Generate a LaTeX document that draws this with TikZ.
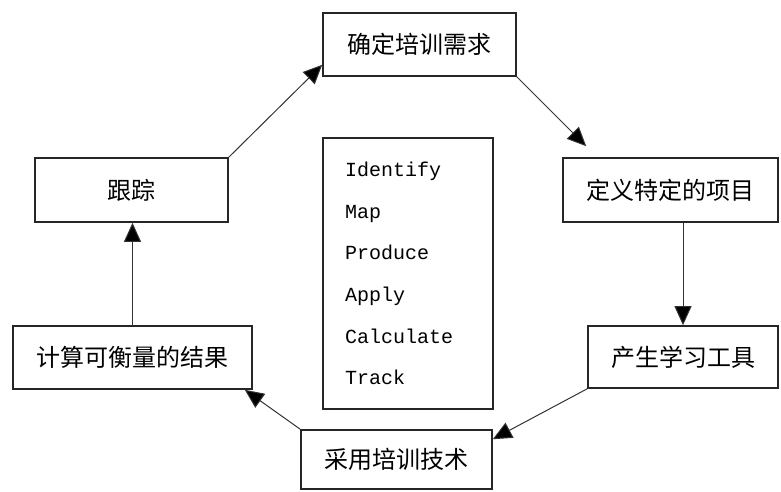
\documentclass[tikz,border=0pt]{standalone}
\usepackage{fontspec}
\newfontfamily\cjkfont{Noto Sans CJK SC}
\newfontfamily\stepfont{Liberation Mono}
\usetikzlibrary{arrows.meta,backgrounds}
\begin{document}
\begin{tikzpicture}[
	x = 1bp, y = -1bp, % pixel coordinates, y pointing down
	> = {Triangle[length=19bp,width=17bp]}, % arrow head style
	link/.style = {line width=1bp, draw=black!80, every edge/.append style={->}},
	box/.style = {rectangle, draw=black!85, line width=1.6bp, fill=white,
		inner sep=0pt, font=\cjkfont\fontsize{24bp}{28bp}\selectfont}
	]
	\useasboundingbox (0,0) rectangle (781,492);
	
	\node[box, minimum width=193bp, minimum height=63bp] (need) at (419.5,44.5) {确定培训需求};
	\node[box, minimum width=215bp, minimum height=64bp] (define) at (670.5,190) {定义特定的项目};
	\node[box, minimum width=190bp, minimum height=62bp] (tools) at (683,357) {产生学习工具};
	\node[box, minimum width=191bp, minimum height=59bp] (adopt) at (396.5,459.5) {采用培训技术};
	\node[box, minimum width=239bp, minimum height=63bp] (result) at (132.5,357.5) {计算可衡量的结果};
	\node[box, minimum width=193bp, minimum height=64bp] (track) at (131.5,190) {跟踪};
	\node[box, minimum width=170bp, minimum height=271bp, text width=126bp,
		inner xsep=22bp, align=left,
		font=\stepfont\fontsize{20bp}{41.6bp}\selectfont] (steps) at (408,273.5)
		{Identify\\Map\\Produce\\Apply\\Calculate\\Track};
	
	\begin{pgfonlayer}{background}
	\path[link]
	(need.south east) 	edge ([xshift=24bp,yshift=11bp]define.north west)
	(tools.north |- define.south) 	edge (tools.north)
	(tools.south west) 	edge ([yshift=-10bp]adopt.north east)
	(adopt.north west) 	edge ([xshift=-8bp]result.south east)
	(result.north) 	edge (result.north |- track.south)
	(track.north east) 	edge ([yshift=12bp]need.south west);
	\end{pgfonlayer}
\end{tikzpicture}
\end{document}
